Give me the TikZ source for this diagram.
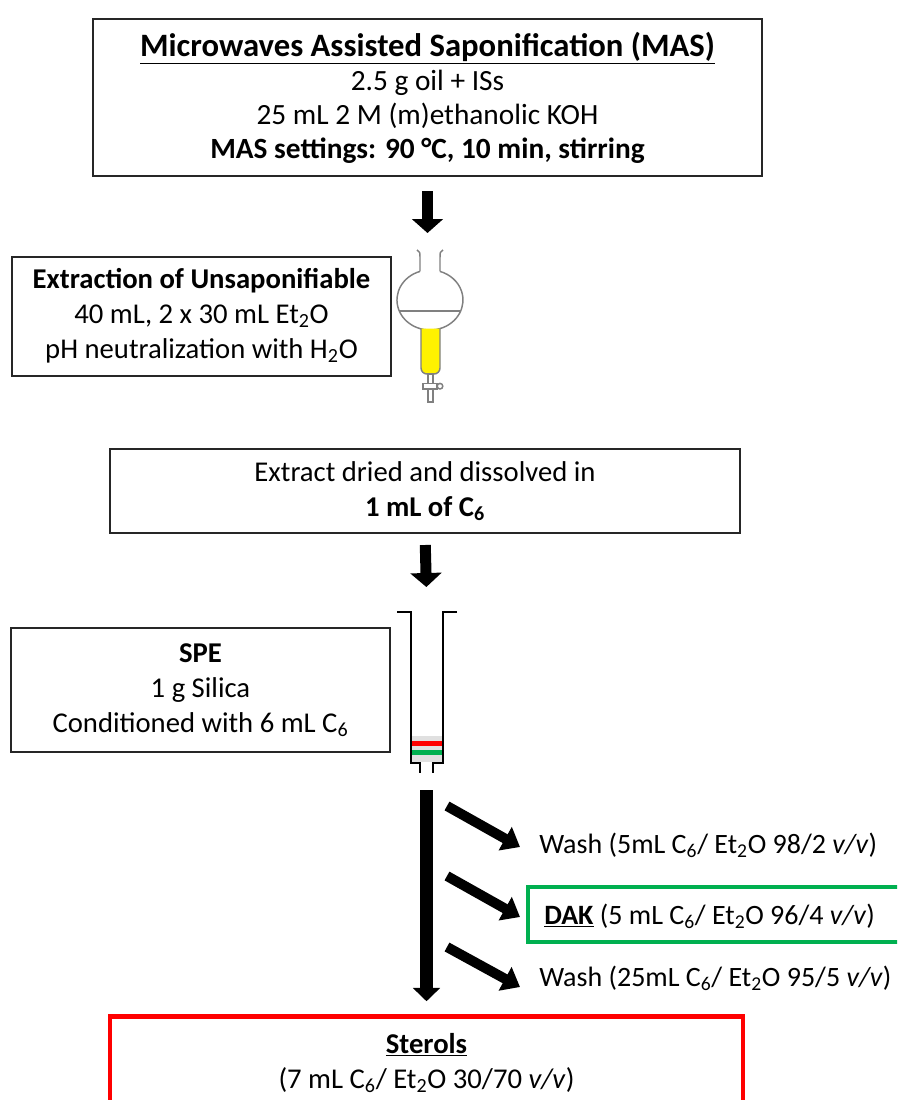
\documentclass[tikz,border=0pt]{standalone}
\usepackage{fontspec}
\setmainfont{Carlito}
\usetikzlibrary{arrows.meta}
\definecolor{dakgreen}{RGB}{0,176,80}
\definecolor{sterred}{RGB}{255,0,0}
\definecolor{glassgray}{RGB}{128,128,128}

\begin{document}
\begin{tikzpicture}[x=0.75pt,y=-0.75pt,
        norm/.style={draw=black!85,rectangle,line width=1.5pt,inner sep=0pt,align=center,font=\fontsize{21.5}{26.25}\selectfont},
        dakline/.style={draw=dakgreen,line width=3.4pt},
        sterbox/.style={draw=sterred,rectangle,line width=3.4pt,inner sep=0pt,align=center,font=\fontsize{21.5}{26.25}\selectfont},
        elute/.style={inner sep=0pt,anchor=west,font=\fontsize{21}{25}\selectfont},
        glass/.style={draw=glassgray,line width=1.1pt},
        tube/.style={draw=black,line width=1.5pt},
        step arrow/.style={line width=8.25pt,-{Triangle[width=23pt,length=10.5pt]}},
        main arrow/.style={line width=9.75pt,-{Triangle[width=20pt,length=10pt]}},
        side arrow/.style={line width=7.5pt,-{Triangle[width=19.5pt,length=12.75pt]}}
      ]
      \clip (0,0) rectangle (897,1100);
      % boxes
      \node[norm,font=\fontsize{22}{25.5}\selectfont,minimum width=501.75pt,minimum height=117.75pt] (mas) at (427.5,97.5)
        {\underline{\textbf{\fontsize{24.5}{25.5}\selectfont Microwaves Assisted Saponification (MAS)}}\\
         2.5 g oil + ISs\\ 25 mL 2 M (m)ethanolic KOH\\ \textbf{MAS settings: 90 °C, 10 min, stirring}};
      \node[norm,minimum width=284.25pt,minimum height=89.25pt] (extr) at (201.5,316)
        {\textbf{Extraction of Unsaponifiable}\\ 40 mL, 2 x 30 mL Et\textsubscript{2}O\\ pH neutralization with H\textsubscript{2}O};
      \node[norm,minimum width=472.5pt,minimum height=63pt] (dry) at (425,491)
        {Extract dried and dissolved in\\ \textbf{1 mL of C\textsubscript{6}}};
      \node[norm,minimum width=284.25pt,minimum height=93pt] (spe) at (200.5,690)
        {\textbf{SPE}\\ 1 g Silica\\ Conditioned with 6 mL C\textsubscript{6}};
      \node[sterbox,minimum width=474.75pt,minimum height=69.75pt] (sterols) at (426.5,1063)
        {\underline{\textbf{Sterols}}\\ (7 mL C\textsubscript{6}/ Et\textsubscript{2}O 30/70 \textit{v/v})};
      \node[elute] (wash1) at (539,845) {Wash (5mL C\textsubscript{6}/ Et\textsubscript{2}O 98/2 \textit{v/v})};
      \node[elute] (dak) at (544,916) {\underline{\textbf{DAK}} (5 mL C\textsubscript{6}/ Et\textsubscript{2}O 96/4 \textit{v/v})};
      \node[elute] (wash2) at (539,978) {Wash (25mL C\textsubscript{6}/ Et\textsubscript{2}O 95/5 \textit{v/v})};
      \draw[dakline] (528,887) rectangle (912,942);

      % separatory funnel
      \draw[glass] (417,250) .. controls (420,252) .. (420,258) -- (420,271.4);
      \draw[glass] (443,250) .. controls (440,252) .. (440,258) -- (440,271.4);
      \draw[glass] (420,271.4) arc[start angle=-107.6,end angle=-432.4,x radius=33,y radius=30];
      \draw[glass] (399.3,311) -- (460.7,311);
      \path[glass,fill=yellow,rounded corners=4.5pt] (421,328.5) -- (421,374) -- (440,374) -- (440,328.5);
      \draw[glass,fill=white] (428,374) rectangle (433,402);
      \draw[glass,fill=white] (423,383.5) rectangle (437,389);
      \draw[glass,fill=white] (440,386.2) circle[radius=2.8];
      \coordinate (funtop) at (427.5,250);

      % SPE cartridge
      \fill[black!12] (411,736) rectangle (443,762);
      \fill[sterred] (411,740.7) rectangle (443,745.5);
      \fill[dakgreen] (411,750) rectangle (443,755);
      \draw[tube] (397,612) -- (411,612) -- (411,763) -- (420,763) -- (420,773);
      \draw[tube] (457,612) -- (443,612) -- (443,763) -- (433,763) -- (433,773);
      \coordinate (coltop) at (427,612);
      \coordinate (colbot) at (426.5,773);

      % arrows
      \draw[step arrow,shorten <=10.5pt,shorten >=12.75pt] (mas.south) -- (funtop);
      \draw[step arrow,shorten <=8.25pt,shorten >=18.75pt] (dry.south) -- (coltop);
      \draw[main arrow,shorten <=12.75pt,shorten >=9.75pt] (colbot) -- (sterols.north);
      \coordinate (a1) at (447,806);
      \coordinate (b1) at (520,847);
      \coordinate (a2) at (447,876);
      \coordinate (b2) at (520,917);
      \coordinate (a3) at (447,947);
      \coordinate (b3) at (520,987);
      \draw[side arrow] (a1) -- (b1);
      \draw[side arrow] (a2) -- (b2);
      \draw[side arrow] (a3) -- (b3);
    \end{tikzpicture}
\end{document}
